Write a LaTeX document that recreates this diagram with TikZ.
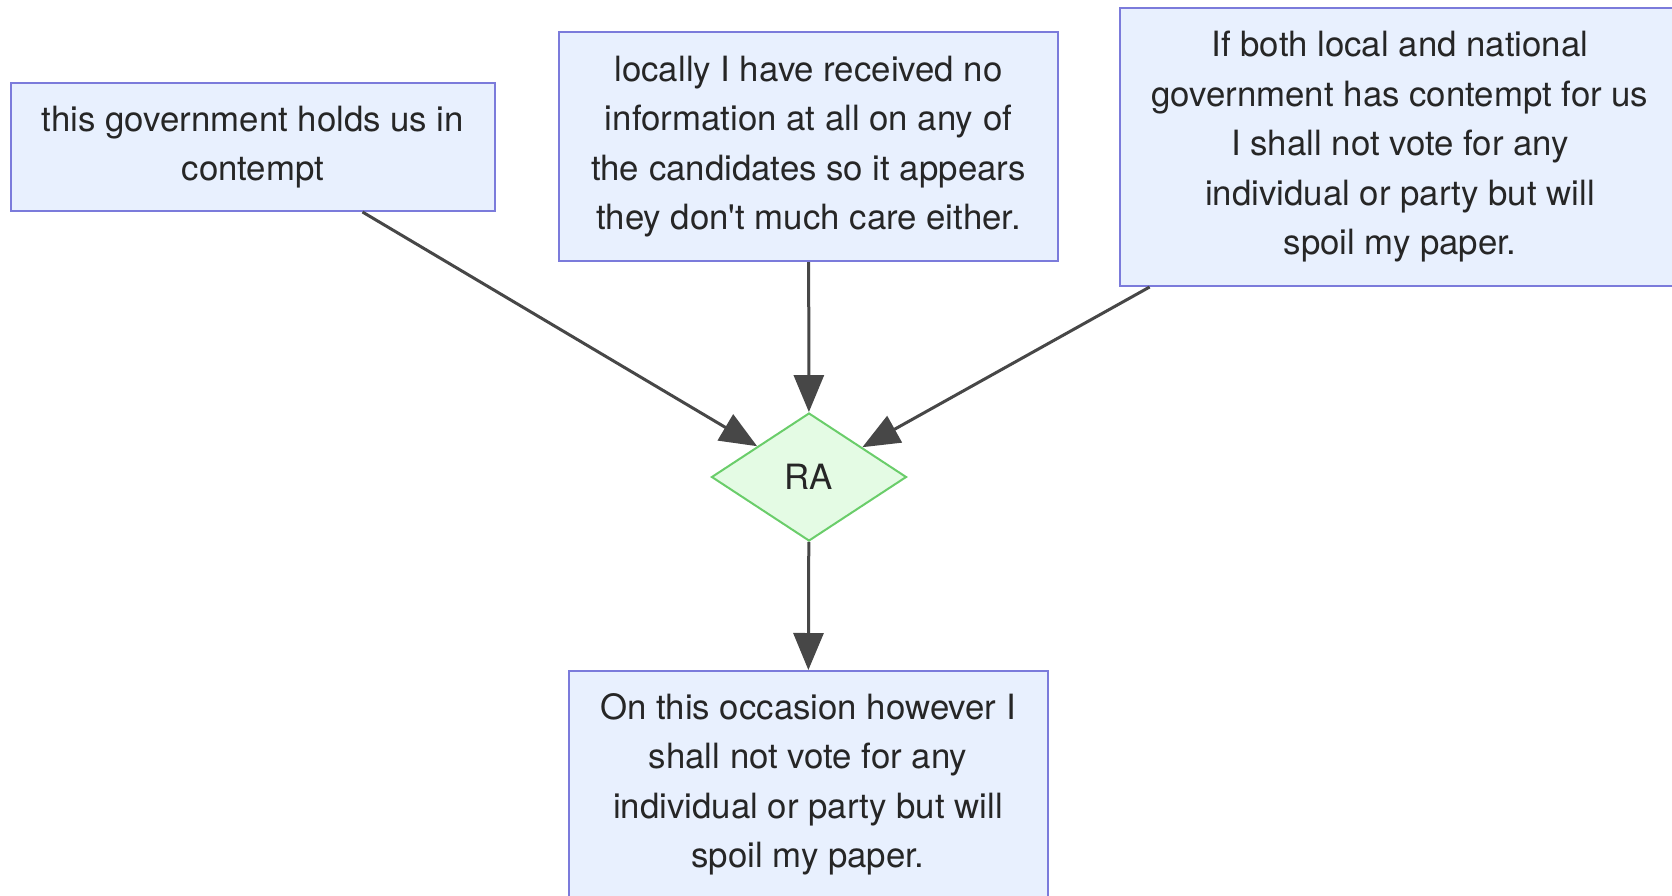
\documentclass[tikz,border=0pt]{standalone}
\usepackage{fontspec}
\setmainfont{TeX Gyre Heros}
\usepackage{xcolor}
\usepackage{tikz}
\usetikzlibrary{shapes.geometric}
\usetikzlibrary{arrows.meta}
\definecolor{boxfill}{HTML}{E8F0FE}
\definecolor{boxline}{HTML}{7B7BDB}
\definecolor{rafill}{HTML}{E4FBE4}
\definecolor{raline}{HTML}{6ACD6A}
\definecolor{linkgray}{HTML}{474747}

\begin{document}
\begin{tikzpicture}[x=0.5pt,y=-0.5pt,
  claim/.style={draw=boxline, line width=1pt, fill=boxfill, inner sep=0pt, align=center,
    text=black!85, font=\fontsize{17.4}{24.75}\selectfont},
  ra/.style={diamond, draw=raline, line width=1pt, fill=rafill, inner sep=0pt,
    minimum width=97.5pt, minimum height=64pt, text=black!85, font=\fontsize{17.4}{24.75}\selectfont},
  support/.style={draw=linkgray, line width=1.5pt, -{Triangle[length=18.5pt,width=15pt]}}]
\useasboundingbox (0,0) rectangle (1672,895);

\node [claim, minimum width=242pt, minimum height=64pt] (contempt) at (253,147)
  {this government holds us in\\contempt};
\node [claim, minimum width=249.5pt, minimum height=114.5pt] (noinfo) at (808.5,146.5)
  {locally I have received no\\information at all on any of\\the candidates so it appears\\they don\textquotesingle t much care either.};
\node [claim, minimum width=280pt, minimum height=139pt] (both) at (1400,147)
  {If both local and national\\government has contempt for us\\I shall not vote for any\\individual or party but will\\spoil my paper.};
\node [ra] (ra) at (809,477) {RA};
\node [claim, minimum width=239.5pt, minimum height=113.5pt] (spoil) at (808,784.5)
  {On this occasion however I\\shall not vote for any\\individual or party but will\\spoil my paper.};

\draw [support] (contempt) -- (ra);
\draw [support] (noinfo) -- (ra);
\draw [support] (both) -- (ra);
\draw [support] (ra) -- (spoil);
\end{tikzpicture}
\end{document}
